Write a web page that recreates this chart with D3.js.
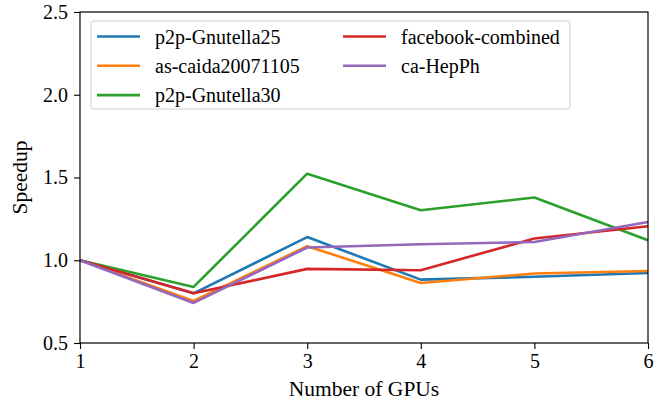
<!DOCTYPE html>
<html>
<head>
<meta charset="utf-8">
<script src="https://cdn.jsdelivr.net/npm/d3@7"></script>
<style>
  body { margin: 0; background: #fff; }
</style>
</head>
<body>
<div id="chart"></div>
<script>
// data
const gpus = [1, 2, 3, 4, 5, 6];
const gnutella25 = [1.0, 0.80, 1.14, 0.883, 0.90, 0.923];
const caida = [1.0, 0.754, 1.085, 0.863, 0.92, 0.935];
const gnutella30 = [1.0, 0.839, 1.523, 1.302, 1.379, 1.121];
const facebook = [1.0, 0.80, 0.948, 0.94, 1.131, 1.205];
const hepph = [1.0, 0.742, 1.077, 1.097, 1.11, 1.231];
const yTicks = [0.5, 1.0, 1.5, 2.0, 2.5];

const series = [
    {name: "p2p-Gnutella25", values: gnutella25, color: "#1f77b4"},
    {name: "as-caida20071105", values: caida, color: "#ff7f0e"},
    {name: "p2p-Gnutella30", values: gnutella30, color: "#2ca02c"},
    {name: "facebook-combined", values: facebook, color: "#d62728"},
    {name: "ca-HepPh", values: hepph, color: "#9467bd"}
];

const FONT = "'Liberation Serif', 'Times New Roman', serif";
const W = 662, H = 402,
    m = {left: 80, right: 14, top: 12, bottom: 59};

let svg = d3.select("#chart").append("svg")
    .attr("width", W).attr("height", H);

let x = d3.scaleLinear().domain([1, 6]).range([m.left, W - m.right]);
let y = d3.scaleLinear().domain([0.5, 2.5]).range([H - m.bottom, m.top]);

let line = d3.line()
    .x((d, i) => x(gpus[i]))
    .y(d => y(d));

// lines
let gr = svg.append("g");
series.forEach(function (s) {
    gr.append("path")
        .attr("d", line(s.values))
        .attr("fill", "none")
        .attr("stroke", s.color)
        .attr("stroke-width", 2.6)
        .attr("stroke-linejoin", "round");
});

// axes
let xAxis = svg.append("g")
    .attr("transform", `translate(0,${H - m.bottom})`)
    .call(d3.axisBottom(x).tickValues(gpus).tickFormat(d3.format("d")).tickSize(6).tickPadding(5));
let yAxis = svg.append("g")
    .attr("transform", `translate(${m.left},0)`)
    .call(d3.axisLeft(y).tickValues(yTicks).tickFormat(d3.format(".1f")).tickSize(6).tickPadding(6));

[xAxis, yAxis].forEach(function (a) {
    a.attr("font-family", null);
    a.select(".domain").remove();
    a.selectAll(".tick line").attr("stroke", "#000").attr("stroke-width", 1.1);
    a.selectAll(".tick text")
        .style("font-family", FONT)
        .style("font-size", "20px")
        .attr("fill", "#000");
});

// frame
svg.append("rect")
    .attr("x", m.left).attr("y", m.top)
    .attr("width", W - m.left - m.right).attr("height", H - m.top - m.bottom)
    .attr("fill", "none").attr("stroke", "#000").attr("stroke-width", 1.2);

// labels
svg.append("text")
    .attr("x", (m.left + W - m.right) / 2).attr("y", 396)
    .attr("text-anchor", "middle")
    .style("font-family", FONT).style("font-size", "21.5px")
    .text("Number of GPUs");
svg.append("text")
    .attr("transform", `translate(27,${(m.top + H - m.bottom) / 2}) rotate(-90)`)
    .attr("text-anchor", "middle")
    .style("font-family", FONT).style("font-size", "21.5px")
    .text("Speedup");

// legend
let lg = svg.append("g");
lg.append("rect")
    .attr("x", 91).attr("y", 21).attr("width", 479).attr("height", 88)
    .attr("rx", 3)
    .attr("fill", "#fff").attr("fill-opacity", 0.8)
    .attr("stroke", "#ccc").attr("stroke-width", 1);

series.forEach(function (s, i) {
    let col = i < 3 ? 0 : 1,
        rowI = i < 3 ? i : i - 3,
        lx = col === 0 ? 97 : 343,
        ly = 36.5 + rowI * 29.3;
    lg.append("line")
        .attr("x1", lx).attr("x2", lx + 43)
        .attr("y1", ly).attr("y2", ly)
        .attr("stroke", s.color).attr("stroke-width", 2.6);
    lg.append("text")
        .attr("x", lx + 58).attr("y", ly + 7)
        .style("font-family", FONT).style("font-size", "20px")
        .text(s.name);
});
</script>
</body>
</html>
